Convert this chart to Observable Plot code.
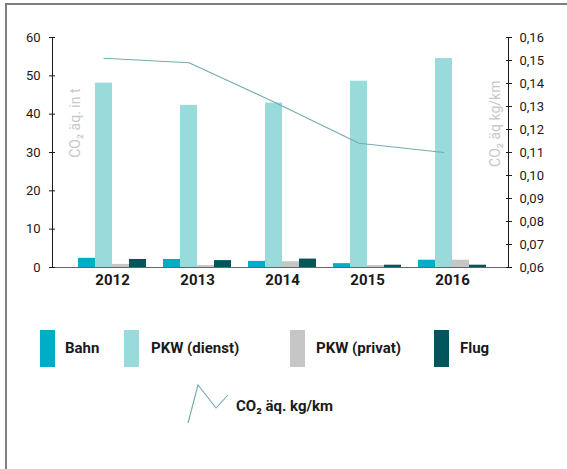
<!DOCTYPE html>
<html>
<head>
<meta charset="utf-8">
<script src="https://cdn.jsdelivr.net/npm/d3@7"></script>
<script src="https://cdn.jsdelivr.net/npm/@observablehq/plot@0.6"></script>
<style>
  html, body { margin: 0; padding: 0; background: #fff; width: 567px; height: 469px; overflow: hidden; }
  body { position: relative; font-family: Roboto, "DejaVu Sans", sans-serif; color: #1a1a1a; }
  #frame { position: absolute; left: 5px; top: 3px; width: 570px; height: 480px; border-top: 2px solid #7f7f7f; border-left: 2px solid #7f7f7f; }
  #chart { position: absolute; left: 0; top: 0; }
  .sw { position: absolute; width: 15px; height: 37px; top: 330px; }
  .lab { position: absolute; top: 338px; font-weight: 700; font-size: 15px; line-height: 20px; }
  #lineKey { position: absolute; left: 186px; top: 383px; }
  #lineLab { position: absolute; left: 236px; top: 396px; font-weight: 700; font-size: 15px; line-height: 20px; }
</style>
</head>
<body>
<div id="frame"></div>
<div id="chart"></div>
<div id="legend"></div>
<script>
const years = [2012, 2013, 2014, 2015, 2016];
const series = ["Bahn", "PKW (dienst)", "PKW (privat)", "Flug"];
const colors = ["#00adc7", "#99dbdb", "#c6c6c6", "#00565a"];
const bahn = [2.4, 2.1, 1.6, 1.0, 1.9];
const pkwDienst = [48.1, 42.3, 42.9, 48.6, 54.5];
const pkwPrivat = [0.8, 0.5, 1.5, 0.5, 1.9];
const flug = [2.1, 1.8, 2.2, 0.6, 0.6];
const co2PerKm = [0.151, 0.149, 0.132, 0.114, 0.110];
const leftTicks = [0, 10, 20, 30, 40, 50, 60];
const rightTicks = [0.06, 0.07, 0.08, 0.09, 0.10, 0.11, 0.12, 0.13, 0.14, 0.15, 0.16];
const lineLabel = "CO₂ äq. kg/km";
const leftTitle = "CO₂ äq. in t";
const rightTitle = "CO₂ äq kg/km";

const values = [bahn, pkwDienst, pkwPrivat, flug];
const bars = [];
years.forEach((yr, i) => series.forEach((s, j) => bars.push({year: yr, series: s, value: values[j][i]})));
const key = (yr, s) => `${yr}|${s}`;
const domain = [];
years.forEach((yr, i) => {
  series.forEach(s => domain.push(key(yr, s)));
  if (i < years.length - 1) domain.push(key(yr, "gap"));
});

// right axis (0.06–0.16) mapped onto left axis units (0–60)
const rMin = 0.06, rMax = 0.16, lMax = 60;
const toLeft = v => (v - rMin) / (rMax - rMin) * lMax;
const toRight = t => rMin + t / lMax * (rMax - rMin);
const lineData = years.map((yr, i) => ({year: yr, v: co2PerKm[i]}));

const W = 567, H = 300;
const mL = 52, mR = 59, iL = 25, iR = 21;
const bw = (W - mL - mR - iL - iR) / domain.length;

const chart = Plot.plot({
  width: W, height: H,
  marginTop: 37, marginBottom: 33, marginLeft: mL, marginRight: mR,
  insetLeft: iL, insetRight: iR,
  style: {fontFamily: "Roboto, 'DejaVu Sans', sans-serif", fontSize: "13px", color: "#1a1a1a", background: "transparent"},
  x: {type: "band", domain, padding: 0, axis: null},
  y: {domain: [0, lMax], axis: null},
  color: {domain: series, range: colors},
  marks: [
    Plot.ruleY([0], {stroke: "#666", strokeWidth: 1}),
    Plot.barY(bars, {x: d => key(d.year, d.series), y: "value", fill: "series"}),
    Plot.line(lineData, {x: d => key(d.year, "PKW (dienst)"), y: d => toLeft(d.v), stroke: "#74abae", strokeWidth: 1.1}),
    Plot.frame({anchor: "left", stroke: "#1a1a1a"}),
    Plot.frame({anchor: "right", stroke: "#1a1a1a"}),
    Plot.axisY(leftTicks, {anchor: "left", tickSize: 6, dx: 3, tickPadding: 9, label: null, fontSize: 13}),
    Plot.axisY(rightTicks.map(toLeft), {anchor: "right", tickSize: 6, dx: -3, tickPadding: 8, label: null, fontSize: 13,
      tickFormat: t => toRight(t).toFixed(2).replace(".", ",")}),
    Plot.text(years, {x: yr => key(yr, "PKW (dienst)"), text: yr => String(yr), frameAnchor: "bottom", dx: bw / 2, dy: 17,
      fontWeight: "bold", fontSize: 15, fill: "#1a1a1a"}),
    Plot.text([leftTitle], {frameAnchor: "top-left", rotate: -90, textAnchor: "end", dx: 18, dy: 51, fill: "#c8c8c8", fontSize: 14}),
    Plot.text([rightTitle], {frameAnchor: "top-right", rotate: -90, textAnchor: "end", dx: -18, dy: 43, fill: "#c8c8c8", fontSize: 14})
  ]
});
document.getElementById("chart").appendChild(chart);

// legend
const legend = document.getElementById("legend");
const swX = [40, 124, 290, 434];
const labX = [65, 151, 316, 460];
series.forEach((s, j) => {
  const sw = document.createElement("div");
  sw.className = "sw"; sw.style.left = swX[j] + "px"; sw.style.background = colors[j];
  legend.appendChild(sw);
  const lb = document.createElement("div");
  lb.className = "lab"; lb.style.left = labX[j] + "px"; lb.textContent = s;
  legend.appendChild(lb);
});
const ns = "http://www.w3.org/2000/svg";
const ks = document.createElementNS(ns, "svg");
ks.setAttribute("id", "lineKey"); ks.setAttribute("width", 46); ks.setAttribute("height", 44);
const pl = document.createElementNS(ns, "polyline");
pl.setAttribute("points", "2,40 12,2 30,25 42,12");
pl.setAttribute("fill", "none"); pl.setAttribute("stroke", "#74abae"); pl.setAttribute("stroke-width", "1.1");
ks.appendChild(pl);
legend.appendChild(ks);
const ll = document.createElement("div");
ll.id = "lineLab"; ll.textContent = lineLabel;
legend.appendChild(ll);
</script>
</body>
</html>
